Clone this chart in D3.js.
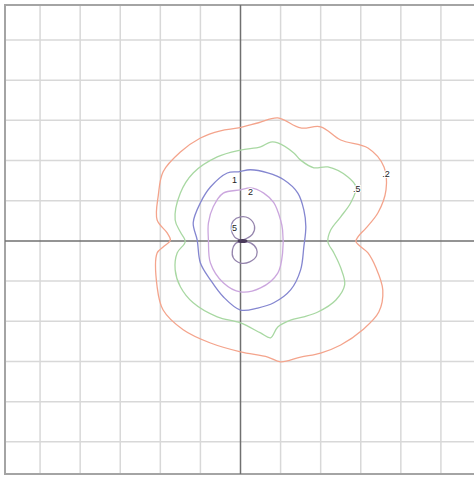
<!DOCTYPE html>
<html>

<head>
    <meta charset="UTF-8">
    <style>
        body { margin: 0; background: #fff; overflow: hidden; }
    </style>
</head>

<body>
    <div id="my_dataviz"></div>

    <script src="https://d3js.org/d3.v7.min.js"></script>
    <script>
        // grid positions (data units)
        const gridX = [-5, -4, -3, -2, -1, 0, 1, 2, 3, 4, 5];
        const gridY = [-5, -4, -3, -2, -1, 0, 1, 2, 3, 4, 5];

        // contour levels and their traced outlines
        const levels = [".2", ".5", "1", "2", "5"];

        const contour02 = [[-0.05, 2.81], [0.45, 2.94], [0.93, 3.06], [1.5, 2.81], [2.0, 2.84], [2.5, 2.51],
            [3.18, 2.31], [3.58, 1.84], [3.63, 1.27], [3.43, 0.70], [3.13, 0.32], [2.93, 0.10], [2.88, -0.02],
            [3.18, -0.30], [3.38, -0.67], [3.55, -1.22], [3.45, -1.77], [3.05, -2.21], [2.5, -2.59], [2.0, -2.79],
            [1.5, -2.89], [1.0, -3.01], [0.68, -2.89], [0, -2.76], [-0.75, -2.54], [-1.43, -2.21], [-1.93, -1.72],
            [-2.08, -1.14], [-2.08, -0.30], [-1.93, -0.15], [-1.75, 0.02], [-1.83, 0.20], [-2.08, 0.52],
            [-2.05, 1.14], [-1.93, 1.72], [-1.5, 2.21], [-1.0, 2.56], [-0.5, 2.74]];

        const contour05 = [[0, 2.26], [0.5, 2.34], [0.75, 2.46], [0.93, 2.44], [1.33, 2.19], [1.5, 2.01],
            [1.83, 1.82], [2.18, 1.84], [2.68, 1.59], [2.88, 1.34], [2.75, 0.95], [2.5, 0.60], [2.25, 0.27],
            [2.18, -0.02], [2.33, -0.30], [2.5, -0.67], [2.6, -1.09], [2.38, -1.47], [1.93, -1.77], [1.58, -1.89],
            [1.25, -1.97], [0.93, -2.14], [0.75, -2.41], [0.5, -2.29], [0, -2.04], [-0.58, -1.89], [-1.18, -1.54],
            [-1.5, -1.14], [-1.63, -0.72], [-1.58, -0.30], [-1.38, -0.02], [-1.5, 0.22], [-1.63, 0.52],
            [-1.5, 1.19], [-1.18, 1.69], [-0.58, 2.09]];

        const contour1 = [[-0.05, 1.72], [0.25, 1.77], [0.68, 1.69], [1.08, 1.52], [1.43, 1.19], [1.58, 0.77],
            [1.63, 0.35], [1.58, -0.15], [1.5, -0.72], [1.25, -1.22], [0.83, -1.54], [0.43, -1.67], [0, -1.72],
            [-0.43, -1.39], [-0.75, -0.97], [-1.0, -0.55], [-1.08, 0.02], [-1.18, 0.45], [-1.0, 0.95],
            [-0.75, 1.34], [-0.33, 1.69]];

        const contour2 = [[0, 1.27], [0.25, 1.32], [0.58, 1.19], [0.83, 0.95], [1.0, 0.52], [1.05, 0.27],
            [1.05, -0.30], [0.93, -0.80], [0.5, -1.17], [0, -1.27], [-0.43, -1.04], [-0.75, -0.55], [-0.8, 0.02],
            [-0.8, 0.45], [-0.68, 0.85], [-0.43, 1.19]];

        const contour5 = [[0, 0], [-0.15, 0.10], [-0.23, 0.30], [-0.18, 0.50], [0, 0.60], [0.2, 0.57],
            [0.35, 0.37], [0.3, 0.17], [0.13, 0.05], [0, 0], [0.25, -0.05], [0.4, -0.20], [0.4, -0.37],
            [0.23, -0.52], [0, -0.55], [-0.18, -0.42], [-0.2, -0.22], [-0.13, -0.07]];

        // where each level label sits
        const labelPos = [[3.63, 1.67], [2.9, 1.29], [-0.15, 1.52], [0.25, 1.22], [-0.15, 0.32]];

        const contours = [contour02, contour05, contour1, contour2, contour5];
        const colors = ["#f4a48c", "#a8d8a2", "#8486d0", "#cba6de", "#9585ad"];

        const W = 474, H = 477;

        var svg = d3.select("#my_dataviz")
            .append("svg")
            .attr("width", W)
            .attr("height", H);

        var x = d3.scaleLinear().domain([-5.875, 5.875]).range([5, 476]);
        var y = d3.scaleLinear().domain([-5.8, 5.87]).range([474, 5]);

        // grid
        svg.append("g").selectAll("line")
            .data(gridX.filter(d => d != 0))
            .enter().append("line")
            .attr("x1", d => x(d)).attr("x2", d => x(d))
            .attr("y1", y(5.87)).attr("y2", y(-5.8))
            .attr("stroke", "#d8d8d8")
            .attr("stroke-width", 1.5);

        svg.append("g").selectAll("line")
            .data(gridY.filter(d => d != 0))
            .enter().append("line")
            .attr("y1", d => y(d)).attr("y2", d => y(d))
            .attr("x1", x(-5.875)).attr("x2", x(5.875))
            .attr("stroke", "#d8d8d8")
            .attr("stroke-width", 1.5);

        // frame (right side falls outside the window)
        svg.append("rect")
            .attr("x", x(-5.875)).attr("y", y(5.87))
            .attr("width", x(6.1) - x(-5.875))
            .attr("height", y(-5.8) - y(5.87))
            .attr("fill", "none")
            .attr("stroke", "#a4a4a4")
            .attr("stroke-width", 2);

        // axes through the origin
        svg.append("line")
            .attr("x1", x(0)).attr("x2", x(0))
            .attr("y1", y(5.87)).attr("y2", y(-5.8))
            .attr("stroke", "#707070").attr("stroke-width", 1.5);
        svg.append("line")
            .attr("y1", y(0)).attr("y2", y(0))
            .attr("x1", x(-5.875)).attr("x2", x(5.875))
            .attr("stroke", "#707070").attr("stroke-width", 1.5);

        // contour lines
        var line = d3.line()
            .x(d => x(d[0]))
            .y(d => y(d[1]))
            .curve(d3.curveCatmullRomClosed.alpha(0.5));

        svg.append("g").selectAll("path")
            .data(contours)
            .enter().append("path")
            .attr("d", line)
            .attr("fill", "none")
            .attr("stroke", (d, i) => colors[i])
            .attr("stroke-width", 1.3);

        // dark spot at the centre
        svg.append("ellipse")
            .attr("cx", x(0.05)).attr("cy", y(0))
            .attr("rx", 5).attr("ry", 2)
            .attr("fill", "#4a3a5a");

        // level labels
        svg.append("g").selectAll("text")
            .data(levels)
            .enter().append("text")
            .attr("x", (d, i) => x(labelPos[i][0]))
            .attr("y", (d, i) => y(labelPos[i][1]))
            .attr("dy", "0.35em")
            .attr("text-anchor", "middle")
            .style("font-family", "Liberation Sans, Arial, sans-serif")
            .style("font-size", "9px")
            .style("paint-order", "stroke")
            .style("stroke", "#fff")
            .style("stroke-width", "2px")
            .attr("fill", "#222")
            .text(d => d);
    </script>
</body>

</html>
